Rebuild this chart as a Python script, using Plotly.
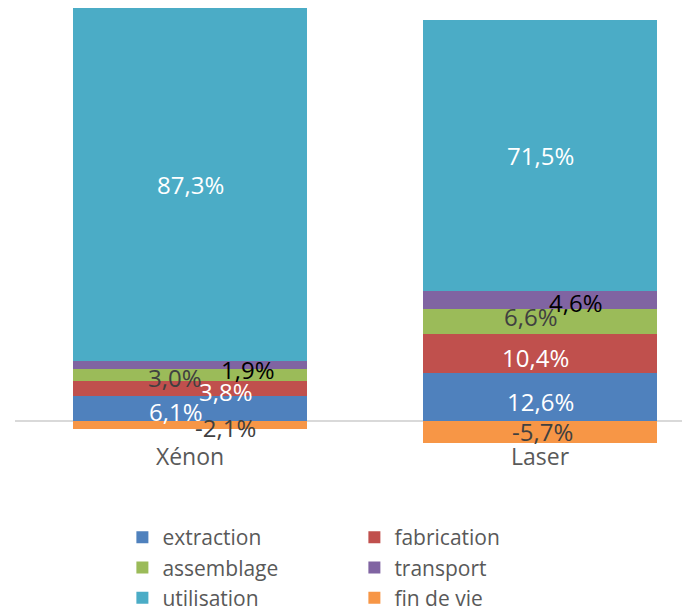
import plotly.graph_objects as go

categories = ["Xénon", "Laser"]
series_names = ["extraction", "fabrication", "assemblage", "transport", "utilisation", "fin de vie"]

# bar heights (relative impact)
extraction = [6.1, 11.8]
fabrication = [3.8, 9.75]
assemblage = [3.0, 6.2]
transport = [1.9, 4.3]
utilisation = [87.3, 67.0]
fin_de_vie = [-2.1, -5.35]

# data labels (share of each bar)
extraction_lbl = ["6,1%", "12,6%"]
fabrication_lbl = ["3,8%", "10,4%"]
assemblage_lbl = ["3,0%", "6,6%"]
transport_lbl = ["1,9%", "4,6%"]
utilisation_lbl = ["87,3%", "71,5%"]
fin_de_vie_lbl = ["-2,1%", "-5,7%"]

values = [extraction, fabrication, assemblage, transport, utilisation, fin_de_vie]
labels = [extraction_lbl, fabrication_lbl, assemblage_lbl, transport_lbl, utilisation_lbl, fin_de_vie_lbl]
colors = ["#4F81BD", "#C0504D", "#9BBB59", "#8064A2", "#4BACC6", "#F79646"]
label_colors = ["#FFFFFF", "#FFFFFF", "#404040", "#000000", "#FFFFFF", "#404040"]
# pixel shifts of each label: [series][category] -> (xshift, yshift)
label_shifts = [
    [(-14, -3), (0, -4)],
    [(36, -3), (-5, -4)],
    [(-15, -3), (-9, 5)],
    [(58, -5), (36, -2)],
    [(0, 0), (0, 0)],
    [(35, -2), (2, 0)],
]

FONT = "Open Sans, Segoe UI, sans-serif"

fig = go.Figure()
for name, vals, col in zip(series_names, values, colors):
    fig.add_trace(go.Bar(
        name=name, x=categories, y=vals, width=0.669,
        marker=dict(color=col, line=dict(width=0)),
        hoverinfo="skip",
    ))

# label annotations placed at segment midpoints computed from the data
for ci, cat in enumerate(categories):
    pos_base = 0.0
    neg_base = 0.0
    for si in range(len(series_names)):
        v = values[si][ci]
        if v >= 0:
            mid = pos_base + v / 2
            pos_base += v
        else:
            mid = neg_base + v / 2
            neg_base += v
        dx, dy = label_shifts[si][ci]
        fig.add_annotation(
            x=cat, y=mid, text=labels[si][ci], showarrow=False,
            xshift=dx, yshift=dy,
            font=dict(family=FONT, size=24, color=label_colors[si]),
        )

fig.update_layout(
    width=687, height=608,
    barmode="relative",
    bargap=0,
    paper_bgcolor="white", plot_bgcolor="white",
    margin=dict(l=15, r=5, t=8, b=164),
    font=dict(family=FONT, color="#595959"),
    showlegend=True,
    legend=dict(
        orientation="h", traceorder="normal",
        x=0.161, xanchor="left", xref="paper",
        y=1 - 517 / 608, yanchor="top", yref="container",
        entrywidth=187, entrywidthmode="pixels",
        font=dict(family=FONT, size=21, color="#595959"),
        itemclick=False, itemdoubleclick=False,
    ),
    xaxis=dict(
        type="category", range=[-0.5, 1.4057],
        anchor="free", position=0.0069,
        showgrid=False, showline=False, zeroline=False,
        ticks="", tickfont=dict(family=FONT, size=23, color="#595959"),
        fixedrange=True,
    ),
    yaxis=dict(
        range=[-5.686, 102.1], visible=True,
        showgrid=False, showticklabels=False, ticks="",
        showline=False,
        zeroline=True, zerolinecolor="#D9D9D9", zerolinewidth=1.5,
        fixedrange=True,
    ),
)

fig.write_html("out.html")
